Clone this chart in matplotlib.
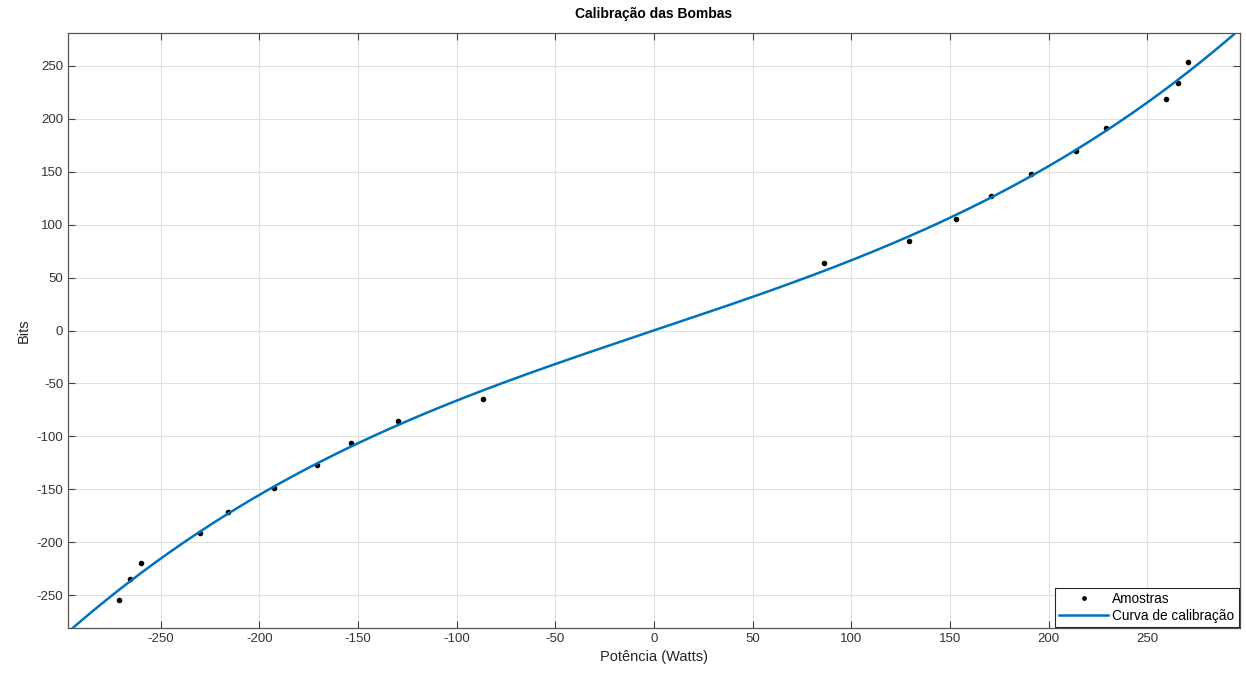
import numpy as np
import matplotlib
matplotlib.use("Agg")
import matplotlib.pyplot as plt

# pump calibration samples: power (W) vs PWM bits
potencia = [-271, -265.8, -260, -230, -216, -192.4, -171, -153.8, -129.8, -86.6,
            86, 129.4, 153.1, 170.9, 190.9, 214, 229, 259.7, 265.6, 270.7]
bits = [-255, -234.6, -220, -191.5, -171, -149, -127, -106.6, -85.5, -64.4,
        63.8, 84.9, 105.7, 127.4, 148, 170, 191.5, 219, 234, 254]

x_ticks = [-250, -200, -150, -100, -50, 0, 50, 100, 150, 200, 250]
y_ticks = [-250, -200, -150, -100, -50, 0, 50, 100, 150, 200, 250]

plt.rcParams['font.family'] = ['Liberation Sans', 'DejaVu Sans']
plt.rcParams['axes.unicode_minus'] = False

# cubic calibration curve fitted to the samples
coef = np.polyfit(potencia, bits, 3)
xc = np.linspace(-300, 300, 600)
yc = np.polyval(coef, xc)

fig = plt.figure(figsize=(12.46, 6.76), dpi=100)
ax = fig.add_axes([0.0546, 0.071, 0.9406, 0.880])

ax.plot(potencia, bits, '.', color='black', markersize=6, label='Amostras')
ax.plot(xc, yc, color='#0072BD', linewidth=1.8, label='Curva de calibração')

ax.set_xlim(-297, 297)
ax.set_ylim(-281, 281)
ax.set_xticks(x_ticks)
ax.set_yticks(y_ticks)
ax.grid(True, color='#e0e0e0', linewidth=0.8)
ax.set_axisbelow(True)
ax.tick_params(direction='in', top=True, right=True, length=5, colors='#404040',
               labelsize=9.5, labelcolor='#333333')
for s in ax.spines.values():
    s.set_color('#555555')
    s.set_linewidth(0.9)

ax.set_title('Calibração das Bombas', fontsize=10, fontweight='bold', pad=11)
ax.set_xlabel('Potência (Watts)', fontsize=10.5, color='#262626')
ax.set_ylabel('Bits', fontsize=10.5, color='#262626')

leg = ax.legend(loc='lower right', fontsize=9.8, fancybox=False, framealpha=1,
                edgecolor='#262626', borderaxespad=0.1, handlelength=3.6,
                handletextpad=0.3, borderpad=0.3, labelspacing=0.2,
                markerscale=0.8)
leg.get_frame().set_linewidth(0.8)

fig.savefig('out.png', dpi=100)
